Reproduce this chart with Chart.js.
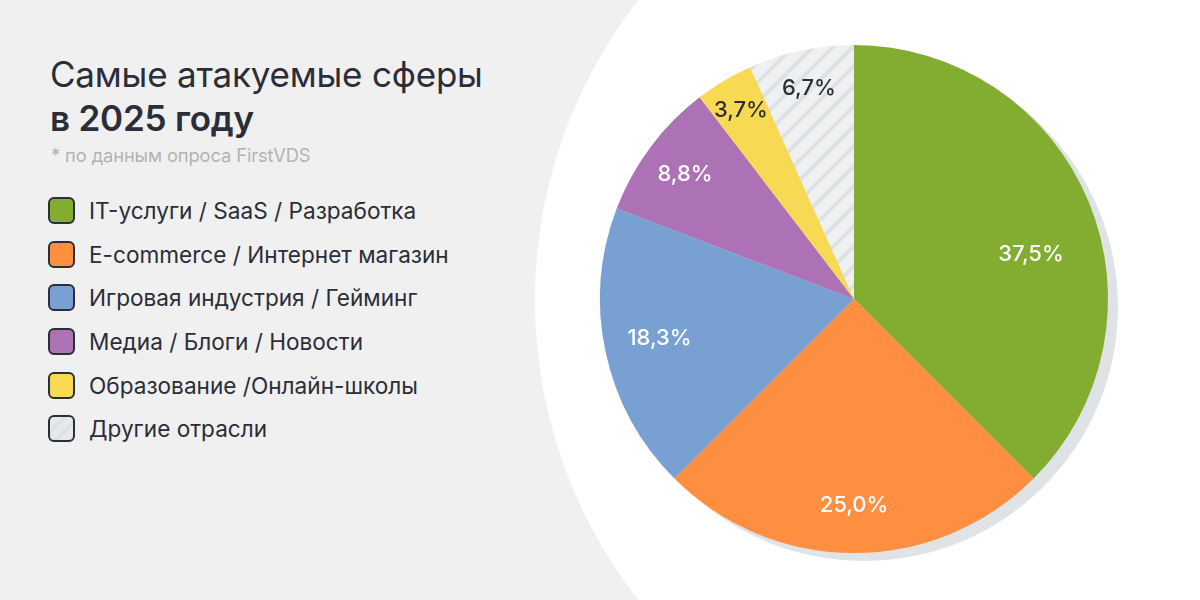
<!DOCTYPE html>
<html>
<head>
<meta charset="utf-8">
<script src="https://cdn.jsdelivr.net/npm/chart.js@4.4.1/dist/chart.umd.min.js"></script>
<style>
  html, body { margin: 0; padding: 0; }
  body {
    width: 1200px; height: 600px; overflow: hidden; position: relative;
    background: #f0f0f0; font-family: "Inter", "Noto Sans", sans-serif; color: #2b2d38;
  }
  .bubble {
    position: absolute; left: 535px; top: -188px; width: 976px; height: 976px;
    border-radius: 50%; background: #ffffff;
  }
  #chart { position: absolute; left: 0; top: 0; }
  .title { position: absolute; left: 50px; top: 52px; font-size: 35px; line-height: 44px; letter-spacing: -0.2px; }
  .title b { font-weight: 600; }
  .note { position: absolute; left: 51px; top: 144px; font-size: 18.3px; color: #b3b3b3; letter-spacing: -0.1px; }
  .legend { position: absolute; left: 48px; top: 189px; margin: 0; padding: 0; list-style: none; }
  .legend li { display: flex; align-items: center; height: 43.6px; font-size: 22.6px; }
  .legend .sw {
    width: 23px; height: 23px; border: 2px solid #2b2d38; border-radius: 6px;
    margin-right: 14px; box-sizing: content-box;
  }
</style>
</head>
<body>
<div class="bubble"></div>
<div class="title">Самые атакуемые сферы<br><b>в 2025 году</b></div>
<div class="note">* по данным опроса FirstVDS</div>
<ul class="legend" id="legend"></ul>
<canvas id="chart" width="1200" height="600"></canvas>
<script>
// Самые атакуемые сферы
const categories = [
  'IT-услуги / SaaS / Разработка',
  'E-commerce / Интернет магазин',
  'Игровая индустрия / Гейминг',
  'Медиа / Блоги / Новости',
  'Образование /Онлайн-школы',
  'Другие отрасли'
];
const shares = [37.5, 25.0, 18.3, 8.8, 3.7, 6.7];
const colors = ['#82ad30', '#ff8f40', '#78a0d3', '#ad72b6', '#f7d954', null];
const labelColors = ['#ffffff', '#ffffff', '#ffffff', '#ffffff', '#2b2d38', '#2b2d38'];

// hatched fill for "other"
function makeHatch() {
  const c = document.createElement('canvas');
  c.width = 20; c.height = 20;
  const g = c.getContext('2d');
  g.fillStyle = '#eff0f1';
  g.fillRect(0, 0, 20, 20);
  g.strokeStyle = '#dfe2e4';
  g.lineWidth = 4;
  g.beginPath();
  g.moveTo(-4, 24); g.lineTo(24, -4);
  g.moveTo(-4, 4); g.lineTo(4, -4);
  g.moveTo(16, 24); g.lineTo(24, 16);
  g.stroke();
  return g.createPattern(c, 'repeat');
}
const hatch = makeHatch();
const fills = colors.map(c => c || hatch);

// legend
const legend = document.getElementById('legend');
categories.forEach((name, i) => {
  const li = document.createElement('li');
  const sw = document.createElement('span');
  sw.className = 'sw';
  if (colors[i]) sw.style.background = colors[i];
  else sw.style.background = 'repeating-linear-gradient(-45deg, #dde1e3 0 3px, #dde1e3 3px 4px, #e6e9ea 4px 10px)';
  li.appendChild(sw);
  li.appendChild(document.createTextNode(name));
  legend.appendChild(li);
});

const shadowPlugin = {
  id: 'shadow',
  beforeDatasetsDraw(chart) {
    const arc = chart.getDatasetMeta(0).data[0];
    if (!arc) return;
    const ctx = chart.ctx;
    ctx.save();
    ctx.fillStyle = '#dfe3e5';
    ctx.beginPath();
    ctx.arc(arc.x + 10, arc.y + 8, arc.outerRadius, 0, Math.PI * 2);
    ctx.fill();
    ctx.restore();
  }
};

// label placement (fraction of radius, angle shift in degrees)
const labelPos = [[0.72, 8], [0.81, 0], [0.78, 1], [0.83, 0], [0.87, 0], [0.85, 0]];

const labelPlugin = {
  id: 'sliceLabels',
  afterDatasetsDraw(chart) {
    const ctx = chart.ctx;
    chart.getDatasetMeta(0).data.forEach((arc, i) => {
      const p = arc.getProps(['x', 'y', 'startAngle', 'endAngle', 'outerRadius'], true);
      const a = (p.startAngle + p.endAngle) / 2 + labelPos[i][1] * Math.PI / 180;
      const r = p.outerRadius * labelPos[i][0];
      ctx.save();
      ctx.font = '500 22px Inter, "Noto Sans", sans-serif';
      ctx.fillStyle = labelColors[i];
      ctx.textAlign = 'center';
      ctx.textBaseline = 'middle';
      ctx.fillText(shares[i].toFixed(1).replace('.', ',') + '%', p.x + Math.cos(a) * r, p.y + Math.sin(a) * r + 1);
      ctx.restore();
    });
  }
};

new Chart(document.getElementById('chart'), {
  type: 'pie',
  data: {
    labels: categories,
    datasets: [{ data: shares, backgroundColor: fills, borderWidth: 0, hoverOffset: 0 }]
  },
  options: {
    responsive: false,
    animation: false,
    layout: { padding: { left: 600, right: 92, top: 45, bottom: 47 } },
    plugins: { legend: { display: false }, tooltip: { enabled: false } }
  },
  plugins: [shadowPlugin, labelPlugin]
});
</script>
</body>
</html>
